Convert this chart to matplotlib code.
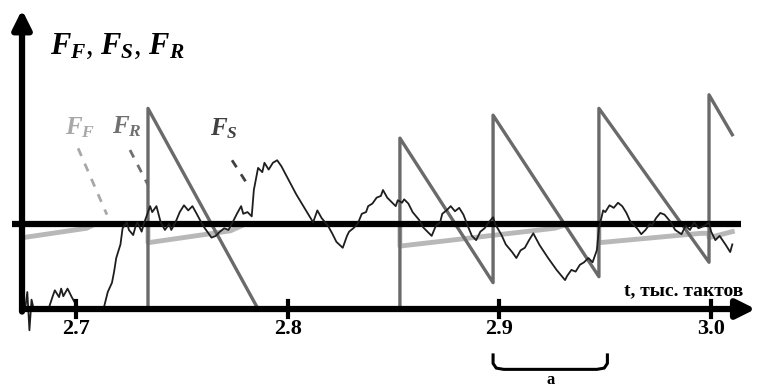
import matplotlib
matplotlib.use("Agg")
import matplotlib.pyplot as plt

plt.rcParams['font.family'] = ['Liberation Serif', 'DejaVu Serif']
plt.rcParams['mathtext.fontset'] = 'custom'
plt.rcParams['mathtext.rm'] = 'Liberation Serif:bold'
plt.rcParams['mathtext.it'] = 'Liberation Serif:bold:italic'

# Data: time in cycles, forces in % of threshold level
threshold = 100

t_s = [2675, 2676, 2677, 2678, 2679, 2680, 2687, 2689, 2690, 2692,
       2693, 2694, 2696, 2698, 2700, 2702, 2713, 2715, 2717, 2718,
       2719, 2721, 2722, 2724, 2725, 2727, 2728, 2729, 2731, 2732,
       2734, 2735, 2736, 2738, 2740, 2742, 2744, 2745, 2747, 2749,
       2751, 2753, 2755, 2757, 2760, 2762, 2764, 2766, 2768, 2770,
       2772, 2774, 2776, 2778, 2779, 2781, 2783, 2784, 2786, 2788,
       2789, 2791, 2793, 2795, 2797, 2804, 2812, 2814, 2816, 2819,
       2821, 2823, 2826, 2828, 2829, 2831, 2833, 2835, 2837, 2838,
       2840, 2842, 2844, 2845, 2847, 2849, 2851, 2852, 2854, 2855,
       2857, 2859, 2862, 2864, 2866, 2868, 2870, 2872, 2873, 2875,
       2877, 2879, 2881, 2883, 2885, 2887, 2889, 2891, 2893, 2895,
       2897, 2898, 2901, 2903, 2906, 2908, 2910, 2912, 2914, 2916,
       2919, 2923, 2927, 2931, 2932, 2934, 2936, 2938, 2940, 2942,
       2944, 2946, 2947, 2949, 2950, 2952, 2954, 2956, 2958, 2960,
       2962, 2965, 2967, 2969, 2971, 2972, 2974, 2976, 2978, 2981,
       2983, 2986, 2988, 2990, 2992, 2994, 2997, 2999, 3000, 3002,
       3004, 3007, 3009, 3010]
f_s = [0, 0, 20, -25, 11, 0, 0, 15, 22, 14,
       24, 15, 24, 14, 5, 0, 0, 20, 31, 44,
       60, 76, 95, 102, 93, 87, 96, 102, 91, 100,
       114, 121, 114, 121, 102, 93, 100, 93, 102, 114,
       122, 116, 121, 112, 98, 91, 84, 86, 91, 95,
       93, 102, 112, 121, 112, 114, 109, 140, 166, 161,
       172, 164, 172, 175, 168, 135, 102, 116, 107, 98,
       89, 79, 72, 86, 91, 95, 100, 112, 114, 121,
       124, 131, 133, 140, 131, 126, 121, 128, 125, 129,
       124, 114, 105, 96, 91, 86, 98, 102, 112, 116,
       121, 115, 119, 111, 98, 86, 81, 91, 95, 102,
       108, 100, 87, 76, 67, 60, 69, 72, 81, 89,
       75, 60, 46, 34, 39, 46, 44, 52, 55, 60,
       55, 69, 95, 116, 114, 122, 119, 125, 121, 113,
       102, 95, 88, 93, 100, 98, 107, 113, 111, 102,
       93, 88, 98, 93, 102, 95, 98, 102, 91, 81,
       86, 75, 67, 76]

t_r = [2675, 2734, 2734, 2786, 2853, 2853, 2897, 2897, 2947, 2947, 2999, 2999, 3010]
f_r = [0, 0, 236, 0, 0, 201, 31, 228, 38, 236, 55, 252, 205]

t_f = [2675, 2705, 2709, 2734, 2734, 2773, 2780, 2853, 2853, 2926, 2933,
       2947, 2947, 2995, 2999, 2999, 3010]
f_f = [84, 95, 100, 100, 78, 92, 100, 100, 74, 95, 100,
       100, 78, 89, 89, 84, 91]

ticks = [2700, 2800, 2900, 3000]
tick_labels = ['2.7', '2.8', '2.9', '3.0']
period = (2897, 2951)   # bracket "a"

fig = plt.figure(figsize=(7.63, 3.89), dpi=100)
ax = fig.add_axes([0, 0, 1, 1])
ax.set_xlim(2664.1, 3024.5)
ax.set_ylim(-94.1, 363.5)
ax.axis('off')

# signals
ax.plot(t_f, f_f, color='#b8b8b8', lw=3.5, solid_joinstyle='round', zorder=2)
ax.plot(t_r, f_r, color='#6a6a6a', lw=2.4, zorder=3)
ax.hlines(threshold, 2670, 3014, color='black', lw=4.5, zorder=4)
ax.plot(t_s, f_s, color='#1e1e1e', lw=1.3, zorder=5)

# axes with arrows
ax.annotate('', xy=(3021, 0), xytext=(2674.5, 0),
            arrowprops=dict(arrowstyle='-|>', lw=4.5, color='black', mutation_scale=28,
                            shrinkA=0, shrinkB=0), zorder=6)
ax.annotate('', xy=(2674.5, 352), xytext=(2674.5, -3),
            arrowprops=dict(arrowstyle='-|>', lw=4.5, color='black', mutation_scale=28,
                            shrinkA=0, shrinkB=0), zorder=6)
for tk, lab in zip(ticks, tick_labels):
    ax.plot([tk, tk], [-9, 9], color='black', lw=3, zorder=6)
    ax.text(tk, -23, lab, ha='center', va='center', fontsize=16, fontweight='bold')

ax.text(2987, 22, 't, тыс. тактов', ha='center', va='center', fontsize=14, fontweight='bold')
ax.text(2687.7, 309, r'$F_F$, $F_S$, $F_R$', ha='left', va='center', fontsize=22)

# series labels with dashed pointers
ax.text(2701.9, 213, r'$F_F$', color='#a8a8a8', ha='center', va='center', fontsize=18)
ax.plot([2701, 2714.6], [189, 111], color='#a8a8a8', lw=2, ls=(0, (3, 3)))
ax.text(2724, 215, r'$F_R$', color='#707070', ha='center', va='center', fontsize=18)
ax.plot([2725.5, 2734], [187, 146], color='#707070', lw=2, ls=(0, (3, 3)))
ax.text(2769.9, 212, r'$F_S$', color='#404040', ha='center', va='center', fontsize=18)
ax.plot([2773.7, 2782.2], [175, 142], color='#404040', lw=2, ls=(0, (3, 3)))

# bracket under the period
a0, a1 = period
bx = [a0, a0, a0 + 1.5, a0 + 5, a1 - 5, a1 - 1.5, a1, a1]
by = [-54, -64, -69.5, -71, -71, -69.5, -64, -54]
ax.plot(bx, by, color='black', lw=2.2, solid_joinstyle='round')
ax.text((a0 + a1) / 2, -84, 'a', ha='center', va='center', fontsize=12, fontweight='bold')

fig.savefig('out.png', dpi=100)
